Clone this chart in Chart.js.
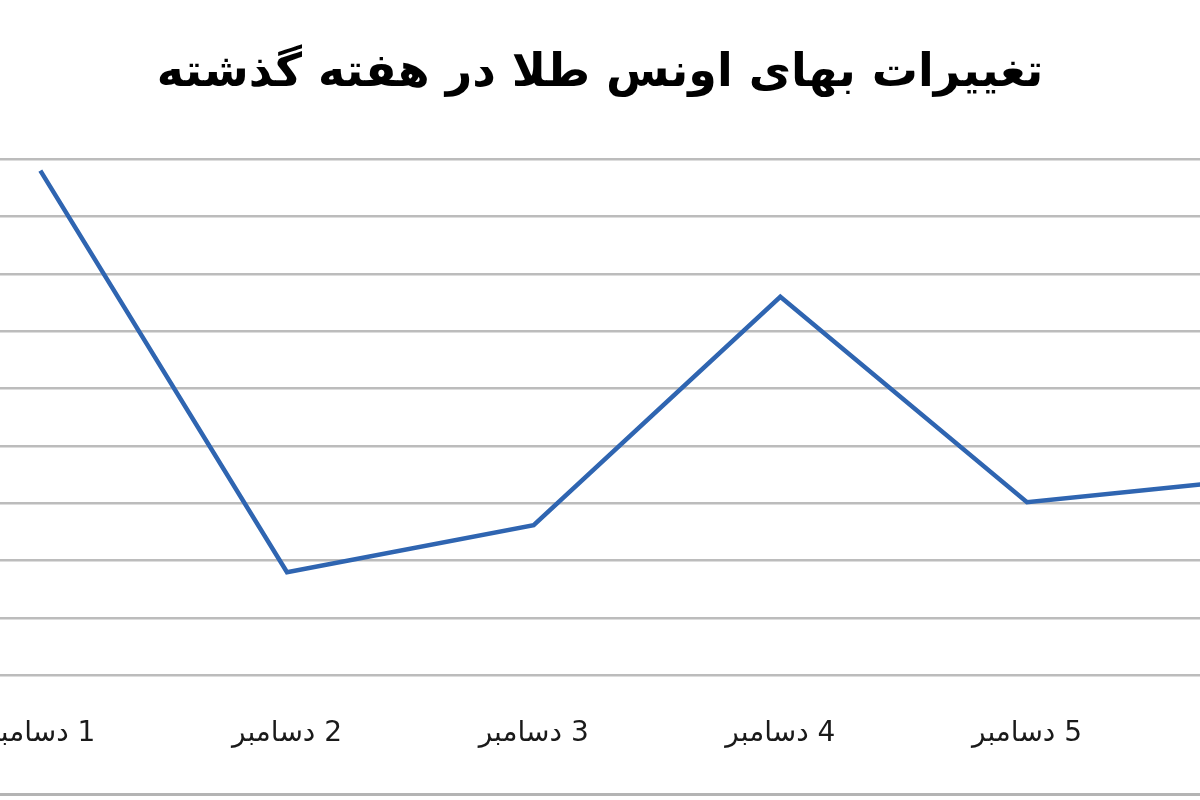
<!DOCTYPE html>
<html lang="fa">
<head>
<meta charset="utf-8">
<script src="https://cdn.jsdelivr.net/npm/chart.js@4.4.1/dist/chart.umd.min.js"></script>
<style>
  html, body { margin: 0; padding: 0; background: #fff; overflow: hidden; width: 1200px; height: 800px; }
  #wrap { position: absolute; left: -197px; top: 0; width: 1594px; height: 793px; }
  #frame { position: absolute; left: 0; top: 793px; width: 1200px; height: 0; border-top: 3px solid #b4b4b4; }
</style>
</head>
<body>
<div id="wrap"><canvas id="goldChart" width="1594" height="793" dir="rtl"></canvas></div>
<div id="frame"></div>
<script>
const chartTitle = 'تغییرات بهای اونس طلا در هفته گذشته';
const days = ['1 دسامبر', '2 دسامبر', '3 دسامبر', '4 دسامبر', '5 دسامبر', '6 دسامبر'];
const ouncePrice = [1814, 1779, 1783.1, 1803, 1785.1, 1787.3];
const yMin = 1770;
const yMax = 1815;
const yStep = 5;

const ctx = document.getElementById('goldChart').getContext('2d');
const chart = new Chart(ctx, {
    type: 'line',
    data: {
        labels: days,
        datasets: [{
            label: chartTitle,
            data: ouncePrice,
            borderColor: '#2f65b1',
            borderWidth: 4.5,
            pointRadius: 0,
            tension: 0,
            fill: false
        }]
    },
    options: {
        responsive: false,
        animation: false,
        devicePixelRatio: 1,
        layout: { padding: 0 },
        plugins: {
            legend: { display: false },
            tooltip: { enabled: false },
            title: {
                display: true,
                text: chartTitle,
                color: '#000',
                font: { family: 'DejaVu Sans', size: 46, weight: 'bold' },
                padding: { top: 46, bottom: 58 }
            }
        },
        scales: {
            x: {
                offset: true,
                grid: { display: false, drawTicks: false },
                border: { display: false },
                ticks: {
                    color: '#1a1a1a',
                    padding: 42,
                    maxRotation: 0,
                    autoSkip: false,
                    font: { family: 'DejaVu Sans', size: 28 }
                }
            },
            y: {
                min: yMin, max: yMax,
                ticks: { display: false, stepSize: yStep },
                border: { display: false },
                grid: { color: '#bcbcbc', lineWidth: 2.5, drawTicks: false },
                afterFit: s => { s.width = 114; }
            }
        }
    }
});
</script>
</body>
</html>
